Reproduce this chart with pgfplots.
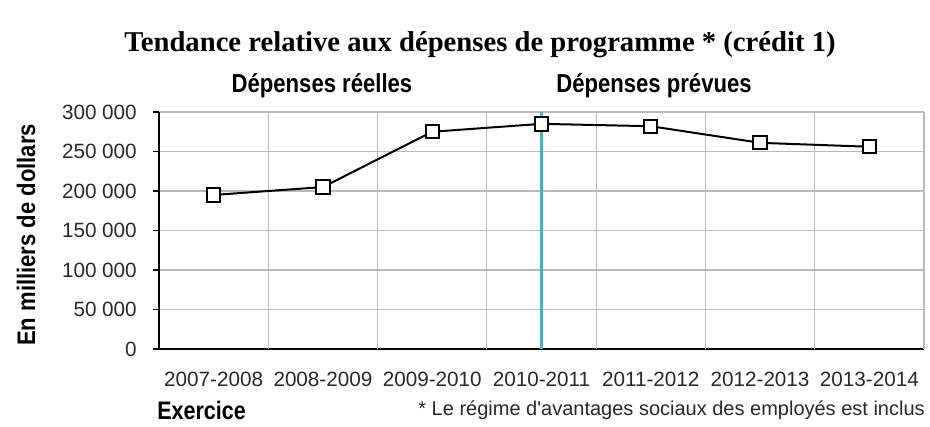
\documentclass[border=0pt]{standalone}
\usepackage{pgfplots}
\pgfplotsset{compat=1.18}
\usepackage{fontspec}
\setmainfont{Liberation Sans}
\newfontfamily\titlefont{Liberation Serif}
\newfontfamily\condfont[FakeStretch=0.85]{Liberation Sans}
\newfontfamily\condfontb[FakeStretch=0.87]{Liberation Sans}
\definecolor{blueline}{RGB}{75,172,198}
\definecolor{gridgray}{RGB}{185,185,185}
\definecolor{ticktext}{RGB}{40,40,40}
\begin{document}
\begin{tikzpicture}
\path[use as bounding box, x=0.75pt, y=0.75pt] (-159,-77) rectangle (771,349);
\begin{axis}[
  at={(0,0)}, anchor=south west,
  scale only axis,
  width=573.75pt, height=177.75pt,
  xmin=-0.5, xmax=6.5, ymin=0, ymax=300000,
  scaled y ticks=false,
  axis lines=left,
  axis line style={-, black, line width=1.8pt},
  xtick={0,...,6},
  xticklabels={2007-2008,2008-2009,2009-2010,2010-2011,2011-2012,2012-2013,2013-2014},
  x tick style={draw=none},
  extra x ticks={0.5,1.5,2.5,3.5,4.5,5.5,6.5},
  extra x tick labels={},
  extra x tick style={grid=major, major tick length=0pt},
  ytick={0,50000,100000,150000,200000,250000,300000},
  yticklabels={0,50 000,100 000,150 000,200 000,250 000,300 000},
  ymajorgrids,
  grid style={gridgray, line width=0.8pt},
  y tick style={black, line width=1.2pt},
  ytick align=outside,
  major tick length=4.5pt,
  tick label style={font=\fontsize{15.5}{18}\selectfont, text=ticktext},
  yticklabel style={anchor=east, inner sep=0pt, xshift=-12pt},
  xticklabel style={anchor=north, inner sep=0pt, yshift=-15pt},
  clip=false,
]
\addplot[blueline, line width=2.25pt] coordinates {(3,0) (3,300000)};
\addplot[black, line width=1.5pt, mark=square*, mark size=5pt,
  mark options={fill=white, line width=1.5pt}] coordinates {
  (0,195000) (1,205000) (2,275000) (3,285000) (4,282000) (5,261000) (6,256000)};
\end{axis}
\begin{scope}[x=0.75pt, y=0.75pt]
\node[font=\titlefont\bfseries\fontsize{21.5}{25}\selectfont] at (321,304) {Tendance relative aux dépenses de programme * (crédit 1)};
\node[font=\condfont\bfseries\fontsize{19.5}{22}\selectfont] at (163,263) {Dépenses réelles};
\node[font=\condfont\bfseries\fontsize{19.5}{22}\selectfont] at (495,263) {Dépenses prévues};
\node[font=\condfontb\bfseries\fontsize{19}{23}\selectfont, rotate=90] at (-133,114) {En milliers de dollars};
\node[font=\condfont\bfseries\fontsize{19}{22}\selectfont, anchor=west, inner sep=0pt] at (-2,-61) {Exercice};
\node[font=\fontsize{15}{18}\selectfont, text=ticktext, anchor=east, inner sep=0pt] at (766,-61) {* Le régime d\textquotesingle avantages sociaux des employés est inclus};
\end{scope}
\end{tikzpicture}
\end{document}
